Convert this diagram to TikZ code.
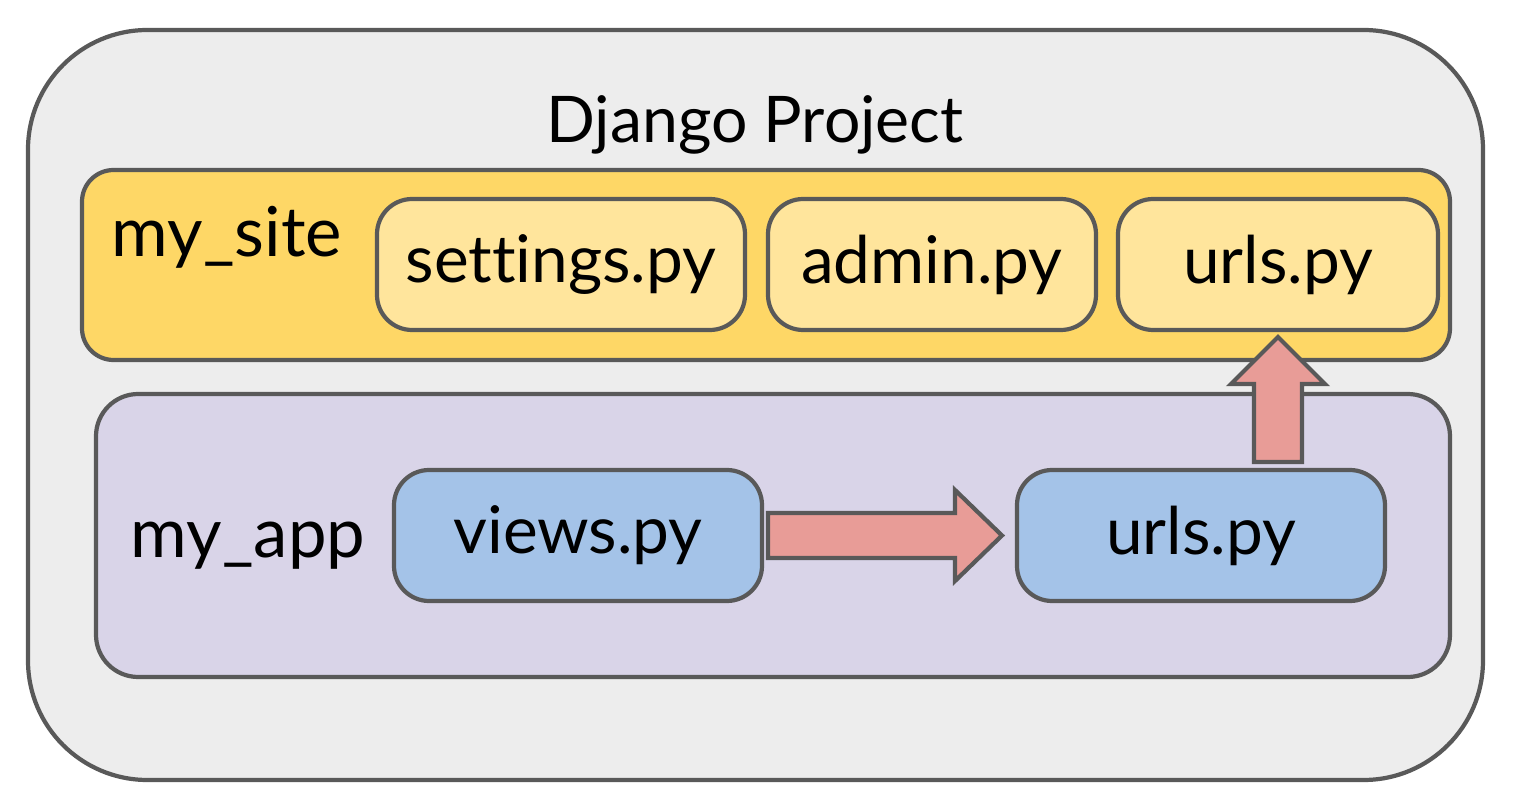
\documentclass[tikz,border=0pt]{standalone}
\usepackage{fontspec}
\setmainfont{Lato}[Ligatures=NoCommon]
\usepackage{tikz}
\usetikzlibrary{positioning,calc}

\definecolor{edgegray}{HTML}{595959}
\definecolor{projgray}{HTML}{EDEDED}
\definecolor{siteyellow}{HTML}{FED766}
\definecolor{fileyellow}{HTML}{FFE59C}
\definecolor{applilac}{HTML}{D9D4E8}
\definecolor{fileblue}{HTML}{A4C3E8}
\definecolor{arrowred}{HTML}{E89C97}

\tikzset{
    box/.style={draw=edgegray, line width=1.2pt, rounded corners=#1, inner sep=0pt, outer sep=0pt},
    box/.default=12pt,
    filebox/.style={box=10pt, minimum height=1.31cm, font=\fontsize{18.7}{22}\selectfont},
    grouplabel/.style={font=\fontsize{19.6}{23}\selectfont},
    fatarrow/.style={draw=edgegray, line width=1.2pt, fill=arrowred, line join=miter}
}

\begin{document}
\begin{tikzpicture}
    \useasboundingbox (0,0) rectangle (15.2,8.02);

    % containers
    \node [box=34pt, fill=projgray, minimum width=14.55cm, minimum height=7.50cm] (project) at (7.555,3.97) {};
    \node [font=\fontsize{18.3}{22}\selectfont] (projtitle) at (7.55,6.77) {Django Project};

    \node [box=9pt, fill=siteyellow, minimum width=13.68cm, minimum height=1.90cm] (mysite) at (7.66,5.37) {};
    \node [box=12pt, fill=applilac, minimum width=13.54cm, minimum height=2.83cm] (myapp) at (7.73,2.665) {};

    \node [grouplabel] (sitelabel) at (2.27,5.65) {my\_site};
    \node [grouplabel] (applabel) at (2.48,2.56) {my\_app};

    % files of my_site
    \node [filebox, fill=fileyellow, minimum width=3.68cm] (settings) at (5.61,5.375) {settings.py};
    \node [filebox, fill=fileyellow, minimum width=3.28cm] (admin) at (9.32,5.375) {admin.py};
    \node [filebox, fill=fileyellow, minimum width=3.20cm] (siteurls) at (12.78,5.375) {urls.py};

    % files of my_app
    \node [filebox, fill=fileblue, minimum width=3.68cm] (views) at (5.78,2.665) {views.py};
    \node [filebox, fill=fileblue, minimum width=3.68cm] (appurls) at (12.01,2.665) {urls.py};

    % views.py -> urls.py
    \draw [fatarrow] let \p1=($(views.east)+(0.06,0)$), \p2=($(appurls.west)+(-0.15,0)$) in
        (\x1,\y1+0.225cm) -- (\x2-0.47cm,\y1+0.225cm) -- (\x2-0.47cm,\y1+0.455cm) -- (\x2,\y1)
        -- (\x2-0.47cm,\y1-0.455cm) -- (\x2-0.47cm,\y1-0.225cm) -- (\x1,\y1-0.225cm) -- cycle;

    % urls.py (app) -> urls.py (site)
    \draw [fatarrow] let \p1=($(siteurls.south)+(0,-0.07)$), \p2=($(appurls.north)+(0,0.08)$) in
        (\x1-0.24cm,\y2) -- (\x1-0.24cm,\y1-0.47cm) -- (\x1-0.47cm,\y1-0.47cm) -- (\x1,\y1)
        -- (\x1+0.47cm,\y1-0.47cm) -- (\x1+0.24cm,\y1-0.47cm) -- (\x1+0.24cm,\y2) -- cycle;
\end{tikzpicture}
\end{document}
